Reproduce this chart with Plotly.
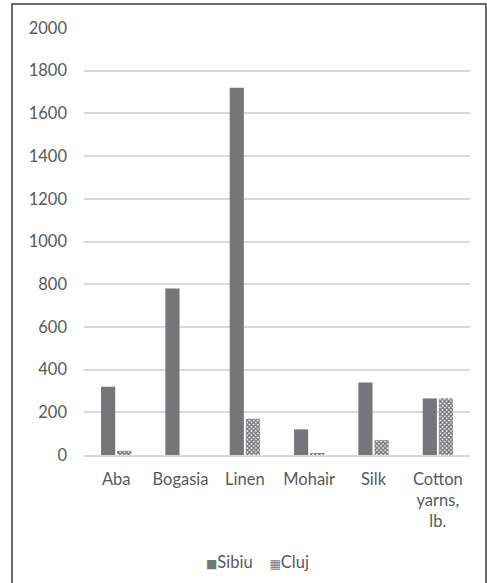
import plotly.graph_objects as go

categories = ["Aba", "Bogasia", "Linen", "Mohair", "Silk", "Cotton<br>yarns,<br>lb."]
sibiu = [320, 780, 1720, 120, 340, 265]
cluj = [20, 0, 170, 8, 70, 265]
y_ticks = [0, 200, 400, 600, 800, 1000, 1200, 1400, 1600, 1800, 2000]
series_names = ["Sibiu", "Cluj"]

W, H = 487, 583
ML, MR, MT, MB = 84, 17, 28, 128
PW, PH = W - ML - MR, H - MT - MB

bar_gray = "#76767A"
text_gray = "#595959"
grid_gray = "#D9D9D9"

fig = go.Figure()
fig.add_trace(go.Bar(
    name=series_names[0], x=categories, y=sibiu,
    marker=dict(color=bar_gray, line=dict(width=0)),
))
fig.add_trace(go.Bar(
    name=series_names[1], x=categories, y=cluj,
    marker=dict(color="white", line=dict(width=0),
                pattern=dict(shape="x", size=3, solidity=0.7,
                             fgcolor=bar_gray, bgcolor="white", fillmode="replace")),
))

def px_x(v):
    return (v - ML) / PW

def px_y(v):
    return 1 - (v - MT) / PH

# outer chart frame
fig.add_shape(type="rect", xref="paper", yref="paper",
              x0=px_x(12), x1=px_x(486), y0=px_y(600), y1=px_y(4),
              line=dict(color="#3a3a3a", width=1.5), layer="below")

# compact legend: small key glyphs right next to series names
key_style = "font-family:DejaVu Sans;font-size:12px;color:#76767A"
key_sq = f'<span style="{key_style}">■</span>'
key_pat = f'<span style="{key_style}">▦</span>'
legend_text = f"{key_sq}{series_names[0]}&nbsp;&nbsp;&nbsp;&nbsp;{key_pat}{series_names[1]}"
fig.add_annotation(xref="paper", yref="paper", x=px_x(257), y=px_y(562),
                   xanchor="center", yanchor="middle", showarrow=False,
                   text=legend_text, font=dict(size=16.5, color=text_gray))

fig.update_layout(
    width=W, height=H,
    margin=dict(l=ML, r=MR, t=MT, b=MB),
    paper_bgcolor="white", plot_bgcolor="white",
    barmode="group", bargap=0.5, bargroupgap=0.12,
    font=dict(family="Lato, Open Sans, sans-serif", size=16.5, color=text_gray),
    showlegend=False,
    xaxis=dict(showgrid=False, showline=True, linecolor=grid_gray, linewidth=1.5,
               ticks="", ticklabelstandoff=8, tickfont=dict(size=16.5, color=text_gray)),
    yaxis=dict(range=[0, 2000], tickvals=y_ticks, showgrid=True, gridcolor=grid_gray,
               gridwidth=1.5, zeroline=False, showline=False, ticks="",
               ticklabelstandoff=16, tickfont=dict(size=16.5, color=text_gray)),
)

fig.write_html("out.html")
